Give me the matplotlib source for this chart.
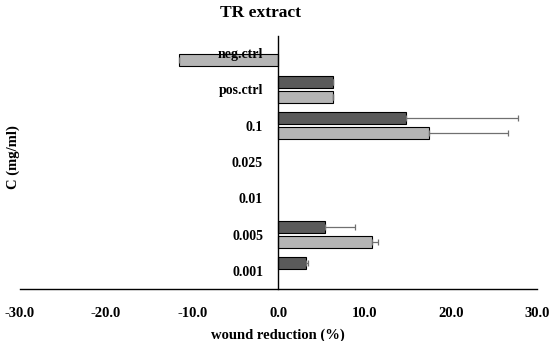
import numpy as np
import matplotlib.pyplot as plt

plt.rcParams['font.family'] = ['Liberation Serif', 'DejaVu Serif']
plt.rcParams['font.weight'] = 'bold'

# data, bottom to top
concentrations = ["0.001", "0.005", "0.01", "0.025", "0.1", "pos.ctrl", "neg.ctrl"]
series_dark = [3.2, 5.4, np.nan, np.nan, 14.8, 6.4, np.nan]
err_dark = [0.2, 3.5, np.nan, np.nan, 13.0, 0.0, np.nan]
series_light = [np.nan, 10.9, np.nan, np.nan, 17.5, 6.4, -11.5]
err_light = [np.nan, 0.7, np.nan, np.nan, 9.1, 0.0, np.nan]
xticks = [-30, -20, -10, 0, 10, 20, 30]

fig = plt.figure(figsize=(5.5, 3.41), dpi=100)
ax = fig.add_axes([0.036, 0.1525, 0.94, 0.7415])

y = np.arange(len(concentrations))
h = 0.33
off = h / 2 + 0.04
ax.barh(y + off, series_dark, height=h, color="#5a5a5a", edgecolor="black", linewidth=0.8)
ax.barh(y - off, series_light, height=h, color="#b5b5b5", edgecolor="black", linewidth=0.8)
ax.errorbar(series_dark, y + off, xerr=[np.zeros(len(y)), err_dark], fmt="none",
            ecolor="#707070", elinewidth=0.9, capsize=2.5, capthick=0.9)
ax.errorbar(series_light, y - off, xerr=[np.zeros(len(y)), err_light], fmt="none",
            ecolor="#707070", elinewidth=0.9, capsize=2.5, capthick=0.9)

ax.set_xlim(-30, 30)
ax.set_ylim(-0.5, len(concentrations) - 0.54)
ax.set_xticks(xticks)
ax.set_xticklabels([f"{v:.1f}" for v in xticks], fontsize=10.5, fontweight="bold")
ax.set_yticks(y)
ax.set_yticklabels(concentrations, fontsize=10.5, fontweight="bold")
ax.tick_params(length=0)
ax.tick_params(axis="x", pad=13)
ax.tick_params(axis="y", pad=11)
ax.set_axisbelow(False)

ax.spines['top'].set_visible(False)
ax.spines['right'].set_visible(False)
ax.spines['left'].set_position(('data', 0))
ax.spines['bottom'].set_linewidth(1.0)
ax.spines['left'].set_linewidth(1.0)

ax.set_xlabel("wound reduction (%)", fontsize=10.5, fontweight="bold", labelpad=6)
fig.text(0.024, 0.538, "C (mg/ml)", rotation=90, fontsize=10.5, fontweight="bold", va="center", ha="center")
fig.text(0.474, 0.962, "TR extract", fontsize=12.5, fontweight="bold", ha="center", va="center")

plt.savefig("out.png")
